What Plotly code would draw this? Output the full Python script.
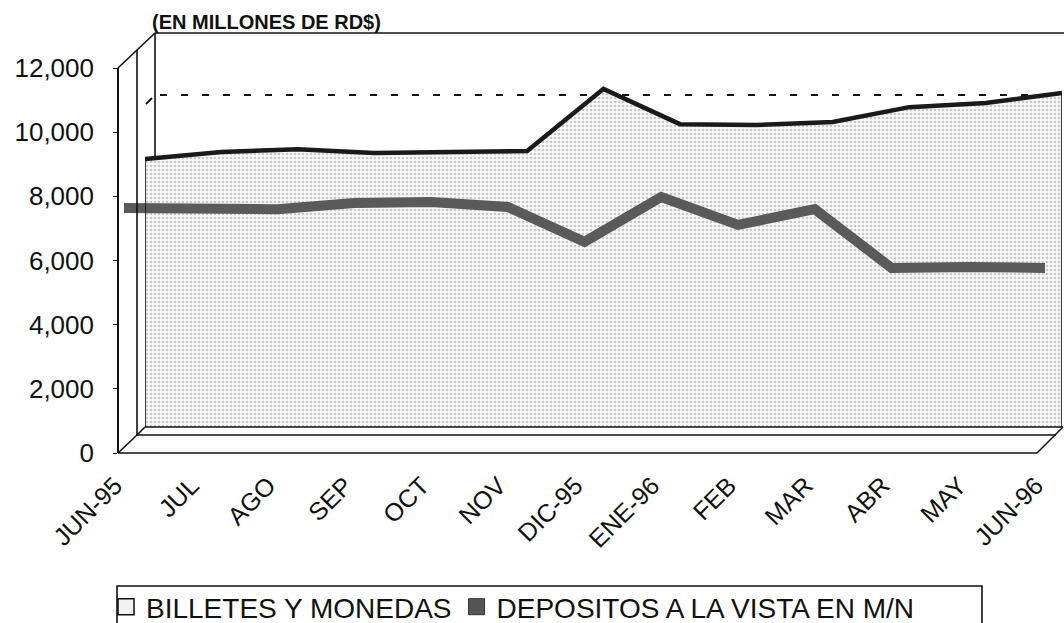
import plotly.graph_objects as go

# ---------------- data (millions of RD$) ----------------
MONTHS = ["JUN-95", "JUL", "AGO", "SEP", "OCT", "NOV", "DIC-95",
          "ENE-96", "FEB", "MAR", "ABR", "MAY", "JUN-96"]
BILLETES = [9160, 9380, 9470, 9350, 9380, 9410, 11350,
            10250, 10220, 10320, 10780, 10910, 11220]
DEPOSITOS = [7640, 7640, 7600, 7790, 7820, 7670, 6580,
             7980, 7110, 7600, 5770, 5800, 5770]
Y_TICKS = [0, 2000, 4000, 6000, 8000, 10000, 12000]
SERIES_NAMES = ["BILLETES Y MONEDAS", "DEPOSITOS A LA VISTA EN M/N"]
TITLE = "(EN MILLONES DE RD$)"

# ---------------- geometry of the oblique "3D" box (pixels) ----------------
W, H = 1064, 623
FONT = "Liberation Sans, Arial, Helvetica, sans-serif"


def fx(px):
    return px / W


def fy(py):
    return (H - py) / H


FRONT_X, FRONT_FLOOR, FRONT_TOP = 118, 453, 68
YMAX = 12000
SCALE = (FRONT_FLOOR - FRONT_TOP) / YMAX          # px per unit
BACK_SHIFT = 26                                   # depth of the area series (px)
AREA_FLOOR = FRONT_FLOOR - BACK_SHIFT
AREA_X0, AREA_X1 = 145, 1062
LINE_X0, LINE_X1 = 124, 1045
WALL_X, WALL_TOP = 155, 33
MID_X = 137

fig = go.Figure()

# area series (deeper plane)
fig.add_trace(go.Scatter(
    x=MONTHS, y=BILLETES, xaxis="x", yaxis="y", mode="lines",
    line=dict(color="#1a1a1a", width=4.5), fill="tozeroy",
    fillpattern=dict(shape=".", size=4, solidity=0.35,
                     fgcolor="#9a9a9a", bgcolor="#f7f7f7"),
    showlegend=False, hoverinfo="skip"))

# ribbon line series (front plane)
fig.add_trace(go.Scatter(
    x=MONTHS, y=DEPOSITOS, xaxis="x2", yaxis="y2", mode="lines",
    line=dict(color="#5a5a5a", width=10),
    showlegend=False, hoverinfo="skip"))

# legend proxies
fig.add_trace(go.Scatter(
    x=[None], y=[None], xaxis="x", yaxis="y", mode="markers",
    name=SERIES_NAMES[0],
    marker=dict(symbol="square", size=17, color="#f2f2f2",
                line=dict(color="#111", width=1.5))))
fig.add_trace(go.Scatter(
    x=[None], y=[None], xaxis="x", yaxis="y", mode="markers",
    name=SERIES_NAMES[1],
    marker=dict(symbol="square", size=17, color="#555555",
                line=dict(color="#333", width=1))))

line_k = dict(color="#111111", width=1.6)


def seg(x0, y0, x1, y1, layer="above", dash=None, width=1.6):
    d = dict(type="line", xref="paper", yref="paper",
             x0=fx(x0), y0=fy(y0), x1=fx(x1), y1=fy(y1),
             line=dict(color="#111111", width=width), layer=layer)
    if dash:
        d["line"]["dash"] = dash
    return d


shapes = [
    # back wall
    seg(WALL_X, WALL_TOP, W + 5, WALL_TOP, layer="below"),
    seg(WALL_X, WALL_TOP, WALL_X, AREA_FLOOR, layer="below"),
    seg(FRONT_X, FRONT_TOP, WALL_X, WALL_TOP),
    seg(MID_X, FRONT_TOP - 18, MID_X, 435),
    # dashed gridline on the back wall (10,000)
    seg(160, 95, AREA_X1, 95, layer="below", dash="7px,14px", width=2),
    seg(MID_X + 9, 104, WALL_X - 3, 98, layer="below", width=2),
    # floor slab
    seg(FRONT_X, FRONT_FLOOR, 1037, FRONT_FLOOR),
    seg(FRONT_X, FRONT_FLOOR, MID_X, 435),
    seg(MID_X, 435, 1056, 435),
    seg(MID_X, 435, AREA_X0, AREA_FLOOR),
    seg(AREA_X0, AREA_FLOOR, 1063, AREA_FLOOR),
    seg(1037, FRONT_FLOOR, 1063, AREA_FLOOR),
    # edges of the area, in data coordinates
    dict(type="line", xref="x", yref="y", x0=MONTHS[0], x1=MONTHS[0],
         y0=BACK_SHIFT / SCALE, y1=BILLETES[0], line=line_k),
    dict(type="line", xref="x", yref="y", x0=MONTHS[-1], x1=MONTHS[-1],
         y0=BACK_SHIFT / SCALE, y1=BILLETES[-1], line=line_k),
    # legend frame
    dict(type="rect", xref="paper", yref="paper",
         x0=fx(117), x1=fx(982), y0=fy(640), y1=fy(586),
         line=dict(color="#111111", width=1.6), fillcolor="rgba(0,0,0,0)"),
]

fig.update_layout(
    width=W, height=H, autosize=False,
    margin=dict(l=0, r=0, t=0, b=0, pad=0, autoexpand=False),
    paper_bgcolor="white", plot_bgcolor="rgba(0,0,0,0)",
    font=dict(family=FONT, color="#111111"),
    showlegend=True,
    legend=dict(orientation="h", x=fx(106), y=fy(582), xanchor="left",
                yanchor="top", borderwidth=0,
                bgcolor="rgba(0,0,0,0)", font=dict(size=28, family=FONT),
                itemwidth=30, tracegroupgap=0, itemclick=False),
    xaxis=dict(domain=[fx(AREA_X0), fx(AREA_X1)], range=[0, 12],
               type="category", categoryarray=MONTHS, anchor="y",
               visible=False, fixedrange=True),
    yaxis=dict(domain=[fy(AREA_FLOOR), fy(FRONT_TOP)],
               range=[BACK_SHIFT / SCALE, YMAX], anchor="x",
               visible=False, fixedrange=True),
    xaxis2=dict(domain=[fx(LINE_X0), fx(LINE_X1)], range=[0, 12],
                type="category", categoryarray=MONTHS, anchor="y2",
                showgrid=False, zeroline=False, showline=False,
                ticks="outside", ticklen=7, tickcolor="rgba(0,0,0,0)",
                ticklabelshift=-9,
                tickangle=-45, tickfont=dict(size=25, family=FONT),
                fixedrange=True),
    yaxis2=dict(domain=[fy(FRONT_FLOOR), fy(FRONT_TOP)], range=[0, YMAX],
                anchor="free", position=fx(FRONT_X),
                tickvals=Y_TICKS, tickformat=",d",
                showgrid=False, zeroline=False, showline=True,
                linecolor="#111111", linewidth=1.6,
                ticks="outside", ticklen=4, tickcolor="#111111",
                ticklabelstandoff=14,
                tickfont=dict(size=26, family=FONT), fixedrange=True),
    shapes=shapes,
    annotations=[dict(text="<b>" + TITLE + "</b>", xref="paper", yref="paper",
                      x=fx(150), y=fy(22), xanchor="left", yanchor="middle",
                      showarrow=False, font=dict(size=20, family=FONT))],
)

fig.write_html("out.html", config={"displayModeBar": False},
               post_script="document.body.style.margin='0px';"
                           "document.body.style.overflow='hidden';")
